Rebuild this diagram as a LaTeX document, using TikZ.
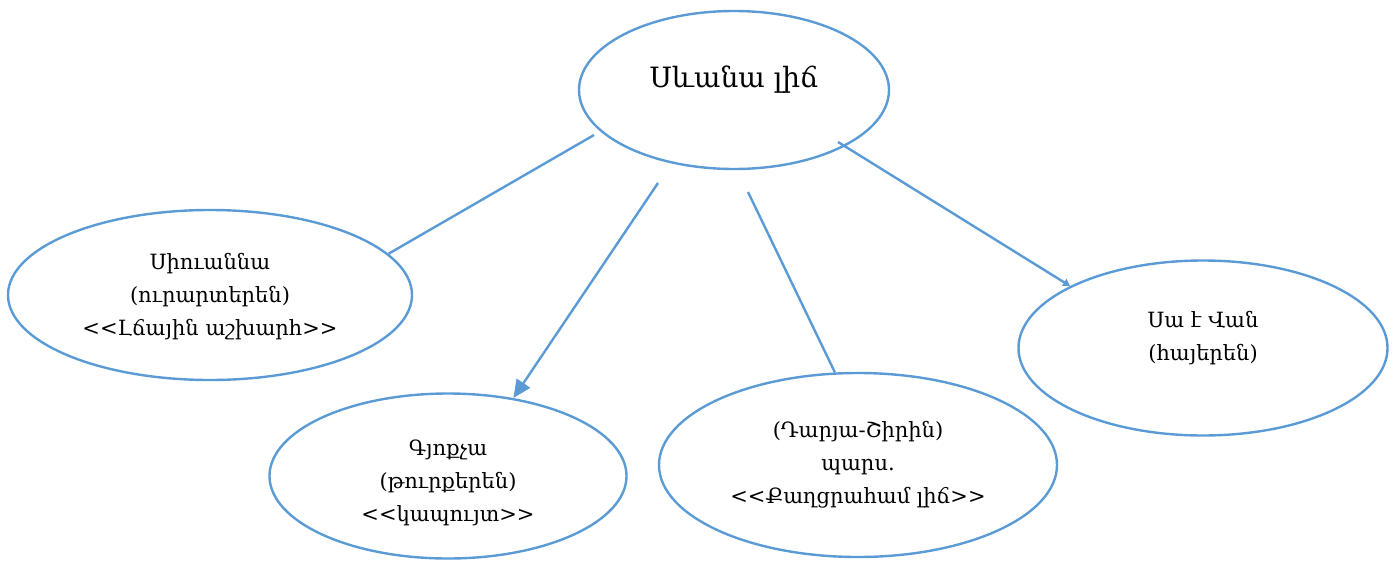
\documentclass[tikz,border=0pt]{standalone}
\usepackage{fontspec}
\setmainfont{DejaVu Serif}
\usetikzlibrary{shapes.geometric,arrows.meta}
\definecolor{eblue}{HTML}{5B9BD5}
\newcommand{\lla}{<\kern0pt<}
\newcommand{\rra}{>\kern0pt>}
\tikzset{
  ell/.style={ellipse, draw=eblue, line width=2.4pt, inner sep=0pt},
  lbl/.style={align=center, font=\fontsize{21}{33}\selectfont, inner sep=0pt},
  conn/.style={draw=eblue, line width=2.4pt},
}
\begin{document}
\begin{tikzpicture}[x=1pt,y=-1pt]
\useasboundingbox (0,0) rectangle (1397,560);
\node[ell, minimum width=310pt, minimum height=158pt] (top) at (734,90) {};
\node[ell, minimum width=404pt, minimum height=170pt] (left) at (210,295) {};
\node[ell, minimum width=357pt, minimum height=165pt] (bl) at (448,476) {};
\node[ell, minimum width=398pt, minimum height=184pt] (bm) at (858,465) {};
\node[ell, minimum width=369pt, minimum height=175pt] (right) at (1203,348) {};
\node[lbl, font=\fontsize{28}{33}\selectfont] (toptxt) at (734,80) {Սևանա լիճ};
\node[lbl] (lefttxt) at (210,297) {Սիուաննա\\(ուրարտերեն)\\\lla Լճային աշխարհ\rra};
\node[lbl] (bltxt) at (448,483) {Գյոքչա\\(թուրքերեն)\\\lla կապույտ\rra};
\node[lbl] (bmtxt) at (858,465) {(Դարյա-Շիրին)\\պարս.\\\lla Քաղցրահամ լիճ\rra};
\node[lbl] (righttxt) at (1203,338) {Սա է Վան\\(հայերեն)};
\coordinate (s1) at (594,135);
\coordinate (s2) at (658,183);
\coordinate (s3) at (748,192);
\coordinate (s4) at (838,142);
\draw[conn] (s1) -- (left.13);
\draw[conn, -{Triangle[length=18pt,width=16pt]}] (s2) -- (bl.50);
\draw[conn] (s3) -- (bm.104);
\draw[conn, -{Triangle[length=7pt,width=8pt]}] (s4) -- (right.155);
\end{tikzpicture}
\end{document}
